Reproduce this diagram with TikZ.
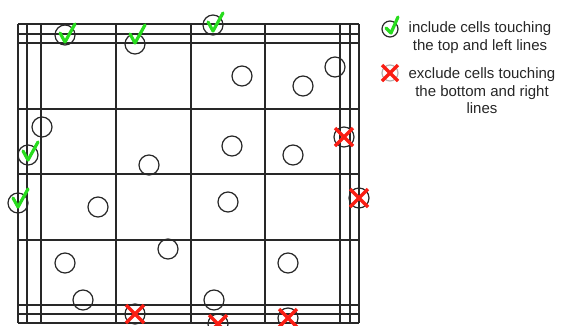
\documentclass[tikz,border=0pt]{standalone}
\usepackage{fontspec}
\setmainfont{Liberation Sans}
\definecolor{gridc}{RGB}{40,40,40}
\definecolor{chkg}{RGB}{40,220,30}
\definecolor{xred}{RGB}{250,30,20}
\tikzset{
  gridline/.style={draw=gridc, line width=1.1pt},
  cellc/.style={circle, draw=gridc, line width=1.2pt, minimum size=20pt, inner sep=0pt},
  legc/.style={circle, draw=gridc, line width=1.2pt, minimum size=16pt, inner sep=0pt},
  legx/.style={circle, draw=gray!60, line width=1.2pt, minimum size=16pt, inner sep=0pt},
  chk/.style={draw=chkg, line width=3.2pt, line cap=round, line join=round},
  xmk/.style={draw=xred, line width=3.2pt},
  legtext/.style={align=center, text=black!85, font=\fontsize{15}{17.5}\selectfont, inner sep=0pt}
}
\begin{document}
\begin{tikzpicture}[x=1pt,y=-1pt]
\useasboundingbox (0,0) rectangle (563,325);
\clip (0,0) rectangle (563,325);
% grid
\foreach \gx in {18,27,41,116,191,265,340,350,359}
  \draw[gridline] (\gx,24) -- (\gx,323);
\foreach \gy in {24,34,43,109,174,240,305,314,323}
  \draw[gridline] (18,\gy) -- (359,\gy);
% plain cells
\foreach \n/\px/\py in {a/242/76, b/303/86, c/335/67, d/42/127, e/149/165, f/98/207,
  g/232/146, h/293/155, i/228/202, j/65/263, k/83/300, l/168/249, m/288/263, n/214/300}
  \node[cellc] (p\n) at (\px,\py) {};
% included cells (check)
\foreach \n/\px/\py/\dy in {1/65/35/1, 2/135/44/-7, 3/213/25/0, 4/28/155/-1, 5/18/203/-2}{
  \node[cellc] (i\n) at (\px,\py) {};
  \draw[chk, shift={(i\n.center)}] (-5,-3+\dy) -- (0,6+\dy) -- (10,-12+\dy);
}
% excluded cells (cross)
\foreach \n/\px/\py in {1/344/137, 2/359/198, 3/135/314, 4/218/324, 5/288/318}{
  \node[cellc] (x\n) at (\px,\py) {};
  \draw[xmk, shift={(x\n.center)}] (-9,-9) -- (9,9) (-9,9) -- (9,-9);
}
% legend
\node[legc] (lc) at (390,29) {};
\draw[chk, shift={(lc.center)}] (-4,-1) -- (1,4) -- (8,-12);
\node[legtext] (lt1) at (480,37.5) {include cells touching\\the top and left lines};
\node[legx] (lx) at (390,73) {};
\draw[xmk, shift={(lx.center)}] (-8,-8) -- (8,8) (-8,8) -- (8,-8);
\node[legtext] (lt2) at (482,91) {exclude cells touching\\the bottom and right\\lines};
\end{tikzpicture}
\end{document}
